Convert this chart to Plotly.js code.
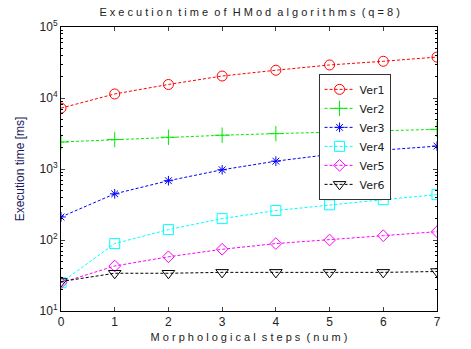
<!DOCTYPE html>
<html><head><meta charset="utf-8">
<script src="https://cdn.plot.ly/plotly-3.0.1.min.js"></script>
<style>html,body{margin:0;padding:0;background:#fff}#chart{width:471px;height:349px}</style>
</head><body><div id="chart"></div>
<script>
var steps = [0,1,2,3,4,5,6,7];
var ver1 = [7200, 11400, 15500, 20400, 24600, 29200, 32900, 37700];
var ver2 = [2400, 2600, 2800, 2990, 3150, 3300, 3470, 3620];
var ver3 = [211, 447, 684, 975, 1290, 1600, 1850, 2100];
var ver4 = [25, 89, 140, 200, 260, 313, 370, 435];
var ver5 = [25, 43, 58, 74, 89, 100, 115, 131];
var ver6 = [26, 34, 34, 35, 35, 35, 35, 36];
var names = ['Ver1','Ver2','Ver3','Ver4','Ver5','Ver6'];
var colors = ['#ff0000','#00ee00','#0000ff','#00ffff','#ff00ff','#000000'];
var symbols = ['circle-open','cross-thin-open','asterisk-open','square-open','diamond-open','triangle-down-open'];
var sizes = [10,11,8,10,9,11];
var series = [ver1,ver2,ver3,ver4,ver5,ver6];
var yTickVals = [10,100,1000,10000,100000];
var yTickText = ['10<sup>1</sup>','10<sup>2</sup>','10<sup>3</sup>','10<sup>4</sup>','10<sup>5</sup>'];

var minorVals = [];
for (var d = 10; d < 100000; d *= 10) { for (var k = 2; k <= 9; k++) minorVals.push(d*k); }

var traces = series.map(function(s,i){
  return {x: steps, y: s, name: names[i], type:'scatter', mode:'lines+markers',
    line:{color:colors[i], width:1, dash:'3px,2px'},
    marker:{symbol:symbols[i], size:sizes[i], color:colors[i], line:{color:colors[i], width:1}}};
});

var layout = {
  width:471, height:349,
  margin:{l:61, r:34, t:27, b:38},
  paper_bgcolor:'#fff', plot_bgcolor:'#fff',
  font:{family:'Liberation Sans, Arial, sans-serif', size:11, color:'#222'},
  title:{text:'E x e c u t i o n  t i m e  o f  H M o d  a l g o r i t h m s  ( q = 8 )', x:0.53, xanchor:'center', y:0.965, yanchor:'middle', font:{size:11, color:'#222'}},
  showlegend:true,
  legend:{x:0.685, y:0.835, xanchor:'left', yanchor:'top', bgcolor:'#fff', bordercolor:'#333', borderwidth:1, font:{family:'DejaVu Sans, sans-serif', size:11, color:'#222'}, tracegroupgap:0, itemwidth:30},
  xaxis:{range:[0,7], dtick:1, ticks:'inside', ticklen:4, mirror:'ticks', showline:true, linecolor:'#000', linewidth:1, showgrid:false, zeroline:false,
    tickfont:{size:12, color:'#222'},
    title:{text:'M o r p h o l o g i c a l  s t e p s  ( n u m )', font:{size:11, color:'#222'}, standoff:4}},
  yaxis:{type:'log', range:[1,5], tickmode:'array', tickvals:yTickVals, ticktext:yTickText, ticks:'inside', ticklen:4, mirror:'ticks', showline:true, linecolor:'#000', linewidth:1, showgrid:false, zeroline:false,
    tickfont:{size:12, color:'#222'},
    minor:{tickmode:'array', tickvals:minorVals, ticks:'inside', ticklen:2, tickcolor:'#000', showgrid:false},
    title:{text:'Execution time [ms]', font:{size:12, color:'#1a1a60'}, standoff:12}}
};
Plotly.newPlot('chart', traces, layout, {staticPlot:true});
</script></body></html>
